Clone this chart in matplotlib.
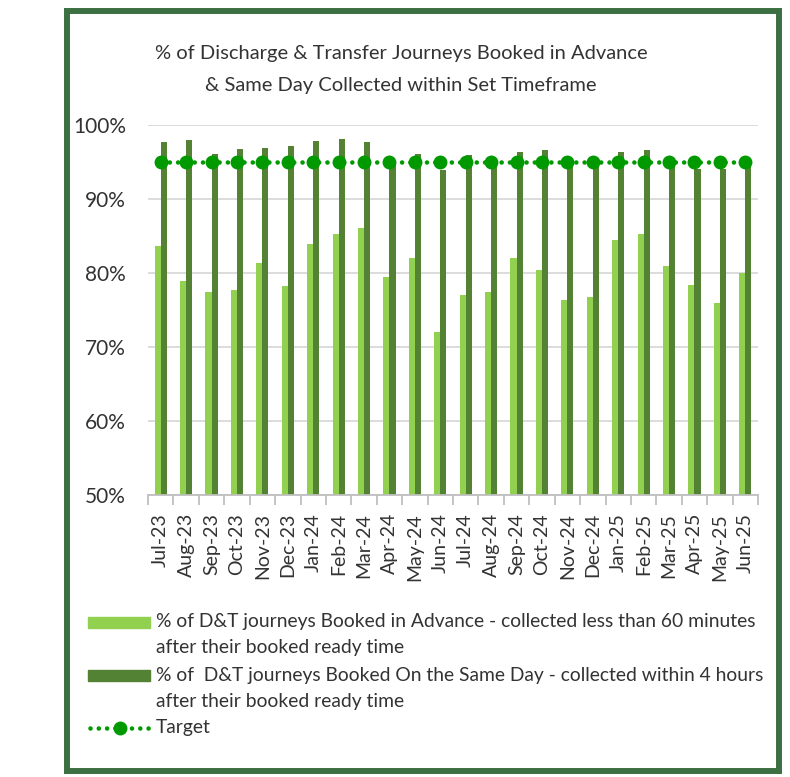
import matplotlib
matplotlib.use("Agg")
from matplotlib import pyplot as plt
from matplotlib.patches import Rectangle
from matplotlib.lines import Line2D
import numpy as np

# datos
months = ["Jul-23", "Aug-23", "Sep-23", "Oct-23", "Nov-23", "Dec-23",
          "Jan-24", "Feb-24", "Mar-24", "Apr-24", "May-24", "Jun-24",
          "Jul-24", "Aug-24", "Sep-24", "Oct-24", "Nov-24", "Dec-24",
          "Jan-25", "Feb-25", "Mar-25", "Apr-25", "May-25", "Jun-25"]

advance = [83.6, 78.9, 77.5, 77.7, 81.3, 78.2, 83.9, 85.3, 86.1, 79.4, 82.0, 72.0,
           77.0, 77.5, 82.0, 80.4, 76.3, 76.8, 84.4, 85.3, 81.0, 78.4, 76.0, 80.0]

same_day = [97.7, 98.0, 96.1, 96.7, 96.9, 97.2, 97.8, 98.1, 97.7, 95.3, 96.1, 93.9,
            95.9, 95.0, 96.3, 96.6, 95.0, 94.4, 96.3, 96.6, 95.0, 94.0, 94.1, 94.5]

target = [95] * 24

yticks = [50, 60, 70, 80, 90, 100]

legend_lines = ["% of D&T journeys Booked in Advance - collected less than 60 minutes",
                "after their booked ready time",
                "% of  D&T journeys Booked On the Same Day - collected within 4 hours",
                "after their booked ready time",
                "Target"]

title_lines = ["% of Discharge & Transfer Journeys Booked in Advance",
               "& Same Day Collected within Set Timeframe"]

light = "#92d050"
dark = "#548235"
tgt = "#009a00"
txt = "#333333"

plt.rcParams['font.family'] = ['Lato', 'DejaVu Sans']

W, H = 790, 777
fig = plt.figure(figsize=(7.9, 7.77), dpi=100)


# pasar de pixeles a fraccion de figura
def fx(px):
    return px / W


def fy(py):
    return 1 - py / H


ax = fig.add_axes([fx(148), fy(495), fx(758) - fx(148), fy(125) - fy(495)])

x = np.arange(len(months))
w = 0.24
ax.bar(x - w / 2, advance, w, color=light, zorder=2)
ax.bar(x + w / 2, same_day, w, color=dark, zorder=2)
ax.plot(x, target, ls=(0, (0.01, 1.8)), lw=3.3, color=tgt,
        dash_capstyle='round', marker='o', ms=9, zorder=3)

ax.set_xlim(-0.5, len(months) - 0.5)
ax.set_ylim(50, 100)
ax.set_yticks(yticks)
ax.set_yticklabels([f"{v}%" for v in yticks])
ax.yaxis.grid(True, color="#d9d9d9", lw=1.3)
ax.set_axisbelow(True)

for s in ["top", "right", "left"]:
    ax.spines[s].set_visible(False)
ax.spines["bottom"].set_color("#bfbfbf")
ax.spines["bottom"].set_linewidth(1.3)

ax.set_xticks(x)
ax.set_xticklabels(months, rotation=90)
ax.set_xticks(np.arange(-0.5, len(months), 1), minor=True)
ax.tick_params(axis="x", which="major", length=0, pad=13, labelsize=14, labelcolor=txt)
ax.tick_params(axis="x", which="minor", length=7, width=1.3, color="#bfbfbf")
ax.tick_params(axis="y", length=0, pad=16, labelsize=15, labelcolor=txt)

# titulo en dos lineas
for t, r in zip(title_lines, [53, 85]):
    fig.text(fx(401), fy(r), t, ha="center", va="center", fontsize=14.5, color=txt)

# leyenda hecha a mano
rows = [622, 648, 675, 701, 728]
for t, r in zip(legend_lines, rows):
    fig.text(fx(156), fy(r), t, ha="left", va="center", fontsize=13.9, color=txt)

fig.patches.append(Rectangle((fx(88), fy(628)), fx(150) - fx(88), fy(617) - fy(628),
                             transform=fig.transFigure, color=light))
fig.patches.append(Rectangle((fx(88), fy(681)), fx(150) - fx(88), fy(670) - fy(681),
                             transform=fig.transFigure, color=dark))
fig.lines.append(Line2D([fx(90), fx(150)], [fy(728), fy(728)], transform=fig.transFigure,
                        ls=(0, (0.01, 1.8)), lw=3.3, color=tgt, dash_capstyle='round'))
fig.lines.append(Line2D([fx(120)], [fy(728)], transform=fig.transFigure,
                        marker='o', ms=9, color=tgt))

# marco verde
fig.patches.append(Rectangle((fx(67), fy(771)), fx(779) - fx(67), fy(11) - fy(771),
                             transform=fig.transFigure, fill=False, lw=4.3, ec="#3c7043"))

fig.savefig("out.png", dpi=100)
